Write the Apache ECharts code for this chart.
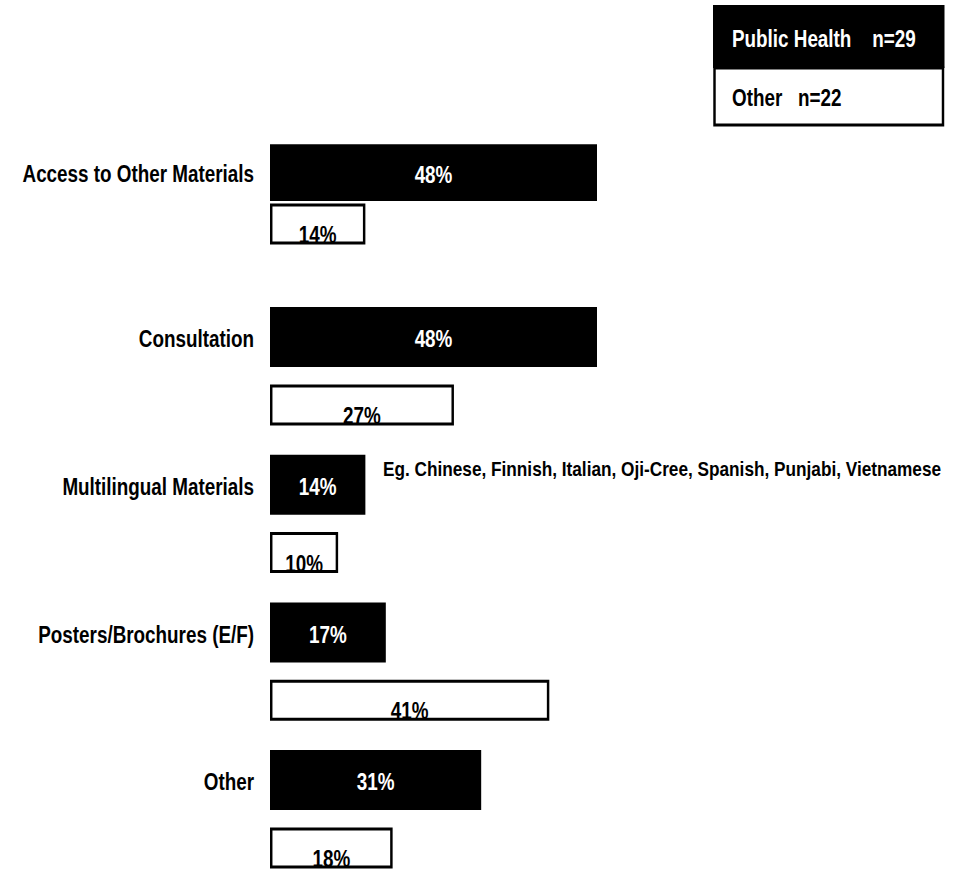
<!DOCTYPE html>
<html>
<head>
<meta charset="utf-8">
<script src="https://cdn.jsdelivr.net/npm/echarts@6/dist/echarts.min.js"></script>
<style>
  html, body { margin: 0; padding: 0; background: #fff; overflow: hidden; width: 956px; height: 873px; }
  /* the chart is laid out wide and compressed horizontally, giving a narrow typeface */
  #chart { width: 1165.85px; height: 873px; transform: scaleX(0.82); transform-origin: 0 0; }
</style>
</head>
<body>
<div id="chart"></div>
<script>
// Resource types requested, share of respondents per group
const categories = ['Access to Other Materials', 'Consultation', 'Multilingual Materials', 'Posters/Brochures (E/F)', 'Other'];
const publicHealth = [48, 48, 14, 17, 31];
const otherOrgs = [14, 27, 10, 41, 18];
const groupNames = ['Public Health', 'Other'];
const groupSizes = [29, 22];
const languageNote = 'Eg. Chinese, Finnish, Italian, Oji-Cree, Spanish, Punjabi, Vietnamese';

const FONT = '"Liberation Sans", Arial, Helvetica, sans-serif';
const NARROW = 0.82;
const sx = px => px / NARROW;   // page x -> chart x

// The first category sits in its own grid: its two bars are packed tightly together
const splitAt = 1;
const gridCats = [categories.slice(0, splitAt), categories.slice(splitAt)];
const gridPH = [publicHealth.slice(0, splitAt), publicHealth.slice(splitAt)];
const gridOther = [otherOrgs.slice(0, splitAt), otherOrgs.slice(splitAt)];

const layouts = [
  { top: 144.25, height: 100, black: 57, white: 41, gap: 0.044, labelLift: 40 },
  { top: 292.4, height: 590.7, black: 60, white: 41, gap: 0.29, labelLift: 54 }
];

const chart = echarts.init(document.getElementById('chart'), null, { renderer: 'svg' });

const grids = layouts.map(l => ({
  left: sx(270), width: sx(681.25), top: l.top, height: l.height,
  containLabel: false, outerBoundsMode: 'none'
}));

const xAxes = layouts.map((l, i) => ({
  type: 'value', gridIndex: i, min: 0, max: 100,
  axisLine: { show: false }, axisTick: { show: false },
  axisLabel: { show: false }, splitLine: { show: false }
}));

const yAxes = layouts.map((l, i) => ({
  type: 'category', gridIndex: i, inverse: true, data: gridCats[i],
  axisLine: { show: false }, axisTick: { show: false },
  axisLabel: {
    color: '#000', fontFamily: FONT, fontWeight: 'bold', fontSize: 23,
    margin: sx(16), verticalAlign: 'bottom', lineHeight: l.labelLift
  }
}));

const series = [];
layouts.forEach((l, i) => {
  series.push({
    name: groupNames[0], type: 'bar', xAxisIndex: i, yAxisIndex: i,
    data: gridPH[i], barWidth: l.black, barGap: (l.gap * 100) + '%',
    itemStyle: { color: '#000' },
    label: {
      show: true, position: 'inside', offset: [0, 2], formatter: '{c}%',
      color: '#fff', fontFamily: FONT, fontWeight: 'bold', fontSize: 23
    }
  });
  series.push({
    name: groupNames[1], type: 'bar', xAxisIndex: i, yAxisIndex: i,
    data: gridOther[i], barWidth: l.white, barGap: (l.gap * 100) + '%',
    itemStyle: { color: '#fff', borderColor: '#000', borderWidth: 3 },
    label: {
      show: true, position: 'insideBottom', distance: 0, offset: [0, 2], formatter: '{c}%',
      color: '#000', fontFamily: FONT, fontWeight: 'bold', fontSize: 23
    }
  });
});

const legendFont = { fontFamily: FONT, fontWeight: 'bold', fontSize: 23 };

chart.setOption({
  animation: false,
  backgroundColor: '#fff',
  grid: grids,
  xAxis: xAxes,
  yAxis: yAxes,
  series: series,
  graphic: [
    // legend box: filled row for the first group, outlined row for the second
    { type: 'rect', shape: { x: sx(713), y: 5, width: sx(231.5), height: 63 }, style: { fill: '#000' } },
    { type: 'rect', shape: { x: sx(714.5), y: 68, width: sx(228.5), height: 57 }, style: { fill: '#fff', stroke: '#000', lineWidth: 3 } },
    { type: 'text', x: sx(732), y: 39, style: Object.assign({ text: groupNames[0] + '    n=' + groupSizes[0], fill: '#fff', verticalAlign: 'middle' }, legendFont) },
    { type: 'text', x: sx(732), y: 98, style: Object.assign({ text: groupNames[1] + '   n=' + groupSizes[1], fill: '#000', verticalAlign: 'middle' }, legendFont) },
    // note beside the multilingual bar
    { type: 'text', x: sx(383), y: 469, style: { text: languageNote, fill: '#000', verticalAlign: 'middle', fontFamily: FONT, fontWeight: 'bold', fontSize: 21 } }
  ]
});
</script>
</body>
</html>
